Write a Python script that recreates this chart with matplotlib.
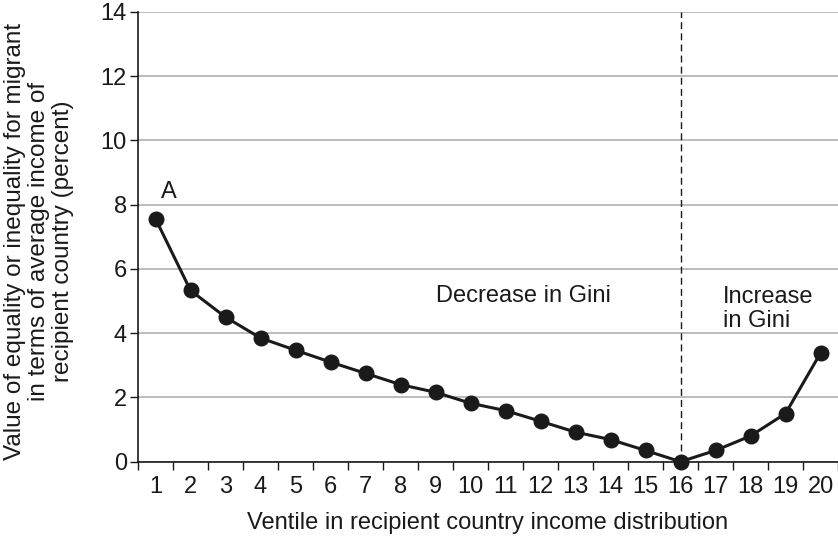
import matplotlib
matplotlib.use("Agg")
import matplotlib.pyplot as plt
import numpy as np

plt.rcParams['font.family'] = ['Liberation Sans', 'DejaVu Sans']

# Ventiles and value of equality/inequality (percent)
ventiles = list(range(1, 21))
values = [7.56, 5.33, 4.50, 3.85, 3.47, 3.10, 2.75, 2.40, 2.16, 1.82,
          1.59, 1.26, 0.92, 0.69, 0.35, 0.0, 0.35, 0.80, 1.50, 3.38]
y_ticks = [0, 2, 4, 6, 8, 10, 12, 14]
split_ventile = 16

ink = '#1a1a1a'

fig = plt.figure(figsize=(8.38, 5.4), dpi=100)
ax = fig.add_axes([0.1647, 0.145, 0.8353, 0.833])

ax.plot(ventiles, values, color=ink, lw=2.2, marker='o', ms=10.5, zorder=3, clip_on=False)
ax.plot([split_ventile, split_ventile], [0, 14], color=ink, lw=1, ls=(0, (5, 3)), zorder=2)

ax.set_xlim(0.5, 20.5)
ax.set_ylim(0, 14)
ax.set_yticks(y_ticks)
ax.set_xticks(ventiles)
ax.set_xticklabels([str(v) for v in ventiles])
ax.set_xticks(np.arange(0.5, 21, 1), minor=True)
ax.tick_params(axis='x', which='major', length=0, pad=10, labelsize=17, colors=ink)
ax.tick_params(axis='x', which='minor', length=6, width=1, color=ink)
ax.tick_params(axis='y', length=6, width=1, labelsize=17, colors=ink, pad=2)

ax.yaxis.grid(True, color='#b0b0b0', lw=1.2)
ax.set_axisbelow(True)
for s in ['top', 'right']:
    ax.spines[s].set_visible(False)
for s in ['left', 'bottom']:
    ax.spines[s].set_color(ink)
    ax.spines[s].set_linewidth(1.2)

ax.set_xlabel('Ventile in recipient country income distribution', fontsize=17, color=ink)
ax.xaxis.set_label_coords(0.499, -0.112)
ax.set_ylabel('Value of equality or inequality for migrant\nin terms of average income of\nrecipient country (percent)',
              fontsize=17.5, color=ink, linespacing=1.1)
ax.yaxis.set_label_coords(-0.092, 0.49)

ax.text(1.37, 8.38, 'A', fontsize=17, color=ink, ha='center', va='center')
ax.text(11.5, 5.17, 'Decrease in Gini', fontsize=17, color=ink, ha='center', va='center')
ax.text(17.22, 4.75, 'Increase\nin Gini', fontsize=17, color=ink, ha='left', va='center', linespacing=1.12)

fig.savefig('out.png', dpi=100)
